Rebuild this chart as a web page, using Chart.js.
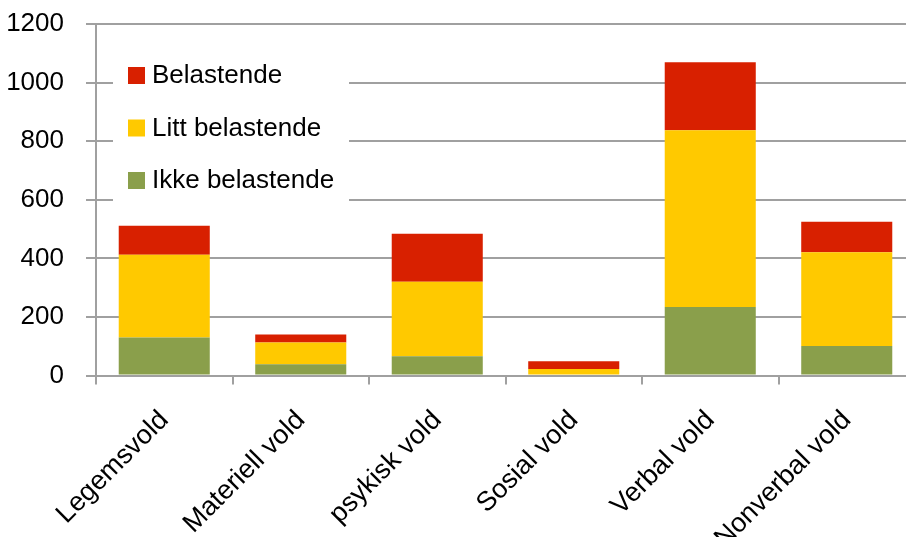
<!DOCTYPE html>
<html>
<head>
<meta charset="utf-8">
<script src="https://cdn.jsdelivr.net/npm/chart.js@4/dist/chart.umd.min.js"></script>
<style>
  html, body { margin: 0; padding: 0; background: #fff; overflow: hidden; }
  #wrap { width: 920px; height: 537px; }
</style>
</head>
<body>
<div id="wrap"><canvas id="chart"></canvas></div>
<script>
const categories = ['Legemsvold', 'Materiell vold', 'psykisk vold', 'Sosial vold', 'Verbal vold', 'Nonverbal vold'];
const ikkeBelastende = [130, 38, 66, 0, 234, 101];
const littBelastende = [282, 75, 254, 22, 603, 320];
const belastende = [99, 27, 164, 27, 232, 104];
const yTicks = [0, 200, 400, 600, 800, 1000, 1200];

const FONT = "'Liberation Sans', Arial, sans-serif";
Chart.defaults.font.family = FONT;
Chart.defaults.color = '#000';

// legend drawn inside the plot, top-left, on a white box
const boxLegend = {
    id: 'boxLegend',
    afterDraw(chart) {
        const ctx = chart.ctx;
        const area = chart.chartArea;
        const x0 = area.left + 17, y0 = area.top + 28;
        ctx.save();
        ctx.fillStyle = '#fff';
        ctx.fillRect(x0, y0, 236, 154);
        const items = chart.data.datasets.slice().reverse();
        ctx.font = '26px ' + FONT;
        ctx.textBaseline = 'middle';
        items.forEach((ds, i) => {
            const cy = y0 + 23 + i * 52.5;
            ctx.fillStyle = ds.backgroundColor;
            ctx.fillRect(x0 + 15, cy - 8, 17, 17);
            ctx.fillStyle = '#000';
            ctx.fillText(ds.label, x0 + 39, cy + 1);
        });
        ctx.restore();
    }
};

const ctx1 = document.getElementById('chart').getContext('2d');
const chart1 = new Chart(ctx1, {
    type: 'bar',
    data: {
        labels: categories,
        datasets: [{
            label: 'Ikke belastende',
            data: ikkeBelastende,
            backgroundColor: '#8a9f4b'
        }, {
            label: 'Litt belastende',
            data: littBelastende,
            backgroundColor: '#ffc900'
        }, {
            label: 'Belastende',
            data: belastende,
            backgroundColor: '#d82000'
        }]
    },
    options: {
        responsive: true,
        maintainAspectRatio: false,
        animation: false,
        categoryPercentage: 1,
        barPercentage: 0.667,
        layout: {
            padding: { top: 24, right: 5, bottom: 0, left: 0 }
        },
        plugins: {
            legend: { display: false },
            tooltip: { enabled: false }
        },
        scales: {
            x: {
                stacked: true,
                grid: {
                    offset: true,
                    drawOnChartArea: false,
                    color: '#a0a0a0',
                    lineWidth: 2,
                    tickLength: 9
                },
                border: { color: '#a0a0a0', width: 2 },
                ticks: {
                    font: { size: 27 },
                    minRotation: 45,
                    maxRotation: 45,
                    padding: 20
                },
                afterFit(scale) {
                    scale.height = 161.5;
                    scale.paddingLeft = 0;
                    scale.paddingRight = 0;
                }
            },
            y: {
                stacked: true,
                min: 0,
                max: 1200,
                afterBuildTicks(scale) { scale.ticks = yTicks.map(v => ({ value: v })); },
                grid: {
                    color: '#a0a0a0',
                    lineWidth: 2,
                    tickLength: 10
                },
                border: { color: '#a0a0a0', width: 2 },
                ticks: {
                    font: { size: 26 },
                    padding: 22,
                    callback: v => String(v)
                },
                afterFit(scale) {
                    scale.width = 96;
                    scale.paddingTop = 0;
                    scale.paddingBottom = 0;
                }
            }
        }
    },
    plugins: [boxLegend]
});
</script>
</body>
</html>
